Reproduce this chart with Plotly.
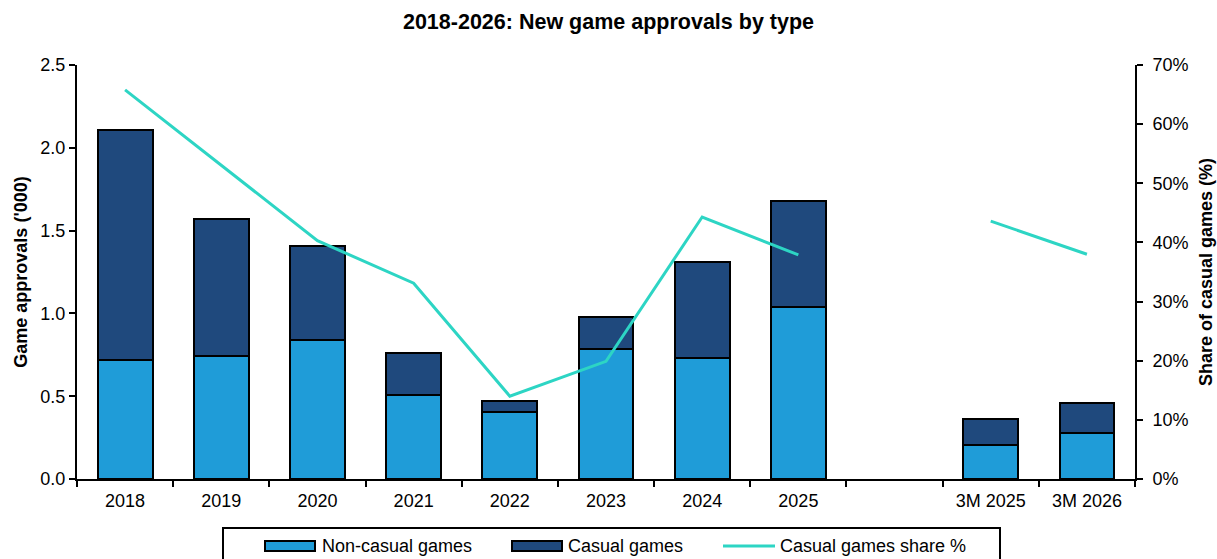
import plotly.graph_objects as go

# Categories (blank slot separates full years from the 3-month figures)
categories = ["2018", "2019", "2020", "2021", "2022", "2023", "2024", "2025", " ", "3M 2025", "3M 2026"]

# Game approvals ('000)
non_casual = [0.72, 0.74, 0.84, 0.51, 0.405, 0.785, 0.73, 1.04, None, 0.205, 0.28]
casual = [1.385, 0.83, 0.57, 0.25, 0.066, 0.193, 0.58, 0.64, None, 0.157, 0.177]

# Casual games share (%)
casual_share = [65.8, 53.0, 40.3, 33.1, 14.0, 19.9, 44.3, 37.9, None, 43.6, 38.0]

series_names = ["Non-casual games", "Casual games", "Casual games share %"]

NON_CASUAL_COLOR = "#1F9CD8"
CASUAL_COLOR = "#1F497D"
LINE_COLOR = "#2DD5C4"
FONT = "Liberation Sans, Arial, sans-serif"

W, H = 1217, 559
ML, MR, MT, MB = 77, 82, 65, 80
PW, PH = W - ML - MR, H - MT - MB


def px_x(px):
    """Pixel column -> paper x."""
    return (px - ML) / PW


def px_y(py):
    """Pixel row -> paper y."""
    return (H - MB - py) / PH


fig = go.Figure()

fig.add_trace(go.Bar(
    x=categories, y=non_casual, name=series_names[0],
    marker=dict(color=NON_CASUAL_COLOR, line=dict(color="black", width=2)),
    width=0.57, showlegend=False,
))
fig.add_trace(go.Bar(
    x=categories, y=casual, name=series_names[1],
    marker=dict(color=CASUAL_COLOR, line=dict(color="black", width=2)),
    width=0.57, showlegend=False,
))
fig.add_trace(go.Scatter(
    x=categories, y=casual_share, name=series_names[2],
    mode="lines", line=dict(color=LINE_COLOR, width=3),
    yaxis="y2", connectgaps=False, showlegend=False,
))

# Boxed legend below the chart with wide colour keys
shapes = [
    dict(type="rect", xref="paper", yref="paper",
         x0=px_x(223), x1=px_x(1000), y0=px_y(575), y1=px_y(528),
         line=dict(color="black", width=2), fillcolor="rgba(0,0,0,0)"),
    dict(type="rect", xref="paper", yref="paper",
         x0=px_x(265), x1=px_x(315), y0=px_y(551), y1=px_y(541),
         line=dict(color="black", width=2), fillcolor=NON_CASUAL_COLOR),
    dict(type="rect", xref="paper", yref="paper",
         x0=px_x(512), x1=px_x(562), y0=px_y(551), y1=px_y(541),
         line=dict(color="black", width=2), fillcolor=CASUAL_COLOR),
    dict(type="line", xref="paper", yref="paper",
         x0=px_x(723), x1=px_x(775), y0=px_y(546), y1=px_y(546),
         line=dict(color=LINE_COLOR, width=3)),
]
legend_text_x = [320, 566, 778]
annotations = [
    dict(text=name, xref="paper", yref="paper", x=px_x(tx), y=px_y(546),
         xanchor="left", yanchor="middle", showarrow=False,
         font=dict(family=FONT, size=18, color="black"))
    for name, tx in zip(series_names, legend_text_x)
]

fig.update_layout(
    width=W, height=H,
    barmode="stack",
    plot_bgcolor="white", paper_bgcolor="white",
    font=dict(family=FONT, size=18, color="black"),
    margin=dict(l=ML, r=MR, t=MT, b=MB, autoexpand=False),
    showlegend=False,
    title=dict(
        text="<b>2018-2026: New game approvals by type</b>",
        x=0.5, xanchor="center", y=1 - 21 / H, yanchor="middle",
        font=dict(family=FONT, size=21.5, color="black"),
    ),
    xaxis=dict(
        type="category", categoryorder="array", categoryarray=categories,
        range=[-0.5, len(categories) - 0.5],
        showline=True, linecolor="black", linewidth=2,
        ticks="outside", tickson="boundaries", ticklen=6, tickwidth=2, tickcolor="black",
        showgrid=False, tickfont=dict(size=18), ticklabelstandoff=4,
    ),
    yaxis=dict(
        title=dict(text="<b>Game approvals ('000)</b>", font=dict(size=18), standoff=8),
        range=[0, 2.5], dtick=0.5, tickformat=".1f",
        showline=True, linecolor="black", linewidth=2,
        ticks="outside", ticklen=6, tickwidth=2, tickcolor="black",
        showgrid=False, zeroline=False, tickfont=dict(size=18),
    ),
    yaxis2=dict(
        title=dict(text="<b>Share of casual games (%)</b>", font=dict(size=18), standoff=12),
        overlaying="y", side="right",
        range=[0, 70], dtick=10, ticksuffix="%",
        showline=True, linecolor="black", linewidth=2,
        ticks="outside", ticklen=6, tickwidth=2, tickcolor="black",
        showgrid=False, zeroline=False, tickfont=dict(size=18), ticklabelstandoff=6,
    ),
    shapes=shapes,
    annotations=annotations,
)

fig.write_html("out.html")
